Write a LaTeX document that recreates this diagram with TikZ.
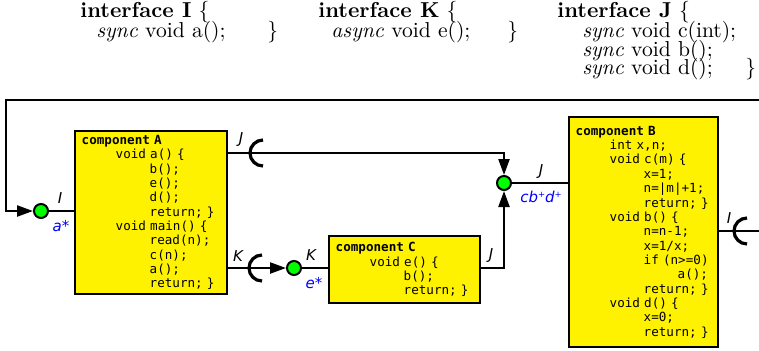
\documentclass[tikz,border=0pt]{standalone}
\usepackage{fontspec}
\setmonofont{DejaVu Sans Mono}
\newfontfamily\lblfont{DejaVu Sans}
\usetikzlibrary{arrows.meta}

\newcommand{\tb}{\hspace*{17pt}}
\newcommand{\plus}{\raisebox{2.6pt}{\fontsize{4.2}{5}\selectfont +}}

\tikzset{
  comp/.style={draw, line width=1.1pt, fill=yellow, anchor=north west, align=left,
    inner xsep=3.3pt, inner ysep=2pt, font=\ttfamily\fontsize{6.3}{7.17}\selectfont},
  port/.style={circle, draw, line width=1pt, fill=green, minimum size=7pt, inner sep=0pt},
  wire/.style={line width=1.15pt},
  sock/.style={line width=1.6pt},
  tip/.style={-{Triangle[length=8pt,width=5.5pt]}},
  lbl/.style={font=\lblfont\itshape\fontsize{7.5}{8}\selectfont, inner sep=0pt},
  call/.style={lbl, text=blue},
  head/.style={anchor=base west, inner sep=0pt, font=\fontsize{10.8}{13}\selectfont}
}

\begin{document}
\begin{tikzpicture}[x=0.5pt,y=-0.5pt]
    \useasboundingbox (0,0) rectangle (759,350);

    % Interfaces
    \node[head] (ifI) at (80,17) {\textbf{interface I} \{};
    \node[head] (ifIa) at (96,37) {\textit{sync} void a();};
    \node[head] (ifIend) at (267,37) {\}};
    \node[head] (ifK) at (318,17) {\textbf{interface K} \{};
    \node[head] (ifKe) at (331,37) {\textit{async} void e();};
    \node[head] (ifKend) at (507,37) {\}};
    \node[head] (ifJ) at (557,17) {\textbf{interface J} \{};
    \node[head] (ifJc) at (582,37) {\textit{sync} void c(int);};
    \node[head] (ifJb) at (582,56) {\textit{sync} void b();};
    \node[head] (ifJd) at (582,74) {\textit{sync} void d();};
    \node[head] (ifJend) at (745,74) {\}};

    % Components
    \node[comp, text width=69.4pt, minimum height=81.5pt] (boxA) at (74,130) {%
        \textbf{component~A}\\
        \tb void~a()~\{\\
        \tb\tb b();\\
        \tb\tb e();\\
        \tb\tb d();\\
        \tb\tb return;~\}\\
        \tb void~main()~\{\\
        \tb\tb read(n);\\
        \tb\tb c(n);\\
        \tb\tb a();\\
        \tb\tb return;~\}};
    \node[comp, text width=68.9pt, minimum height=33.5pt] (boxC) at (328,235) {%
        \textbf{component~C}\\
        \tb void~e()~\{\\
        \tb\tb b();\\
        \tb\tb return;~\}};
    \node[comp, text width=67.9pt, minimum height=115pt] (boxB) at (568,116) {%
        \textbf{component~B}\\
        \tb int~x,n;\\
        \tb void~c(m)~\{\\
        \tb\tb x=1;\\
        \tb\tb n=|m|+1;\\
        \tb\tb return;~\}\\
        \tb void~b()~\{\\
        \tb\tb n=n-1;\\
        \tb\tb x=1/x;\\
        \tb\tb if~(n>=0)\\
        \tb\tb\tb a();\\
        \tb\tb return;~\}\\
        \tb void~d()~\{\\
        \tb\tb x=0;\\
        \tb\tb return;~\}};

    % Provided ports
    \node[port] (circI) at (41,211) {};
    \node[port] (circK) at (294,268) {};
    \node[port] (join) at (504,183) {};

    % Required ports
    \coordinate (sockAJ) at (263,153);
    \coordinate (sockAK) at (262,268);
    \coordinate (sockBI) at (747,231);
    \coordinate (loopR) at (770,231);
    \coordinate (loopL) at (6,100);

    % Wires
    \draw[wire] (circI) -- (circI -| boxA.west);
    \draw[wire, tip] (boxA.east |- sockAJ) -| (join);
    \draw[wire, tip] (boxA.east |- sockAK) -- (circK);
    \draw[wire] (circK) -- (circK -| boxC.west);
    \draw[wire, tip] (boxC.east |- circK) -| (join);
    \draw[wire] (join) -- (join -| boxB.west);
    \draw[wire, tip] (boxB.east |- sockBI) -- (loopR) |- (loopL) |- (circI);

    % Sockets
    \draw[sock] ([yshift=6.5pt]sockAJ) arc[start angle=90, end angle=270, radius=6.5pt];
    \draw[sock] ([yshift=6.5pt]sockAK) arc[start angle=90, end angle=270, radius=6.5pt];
    \draw[sock] ([yshift=6.5pt]sockBI) arc[start angle=90, end angle=270, radius=6.5pt];

    % Labels
    \node[lbl] (lblI) at (60,198) {I};
    \node[call] (lblA) at (61,226) {a*};
    \node[lbl] (lblAJ) at (241,140) {J};
    \node[lbl] (lblAK) at (238,256) {K};
    \node[lbl] (lblK) at (311,255) {K};
    \node[call] (lblE) at (314,283) {e*};
    \node[lbl] (lblCJ) at (491,256) {J};
    \node[lbl] (lblJ) at (541,172) {J};
    \node[call] (lblCBD) at (541,197) {cb\plus d\plus};
    \node[lbl] (lblBI) at (729,218) {I};
\end{tikzpicture}
\end{document}
